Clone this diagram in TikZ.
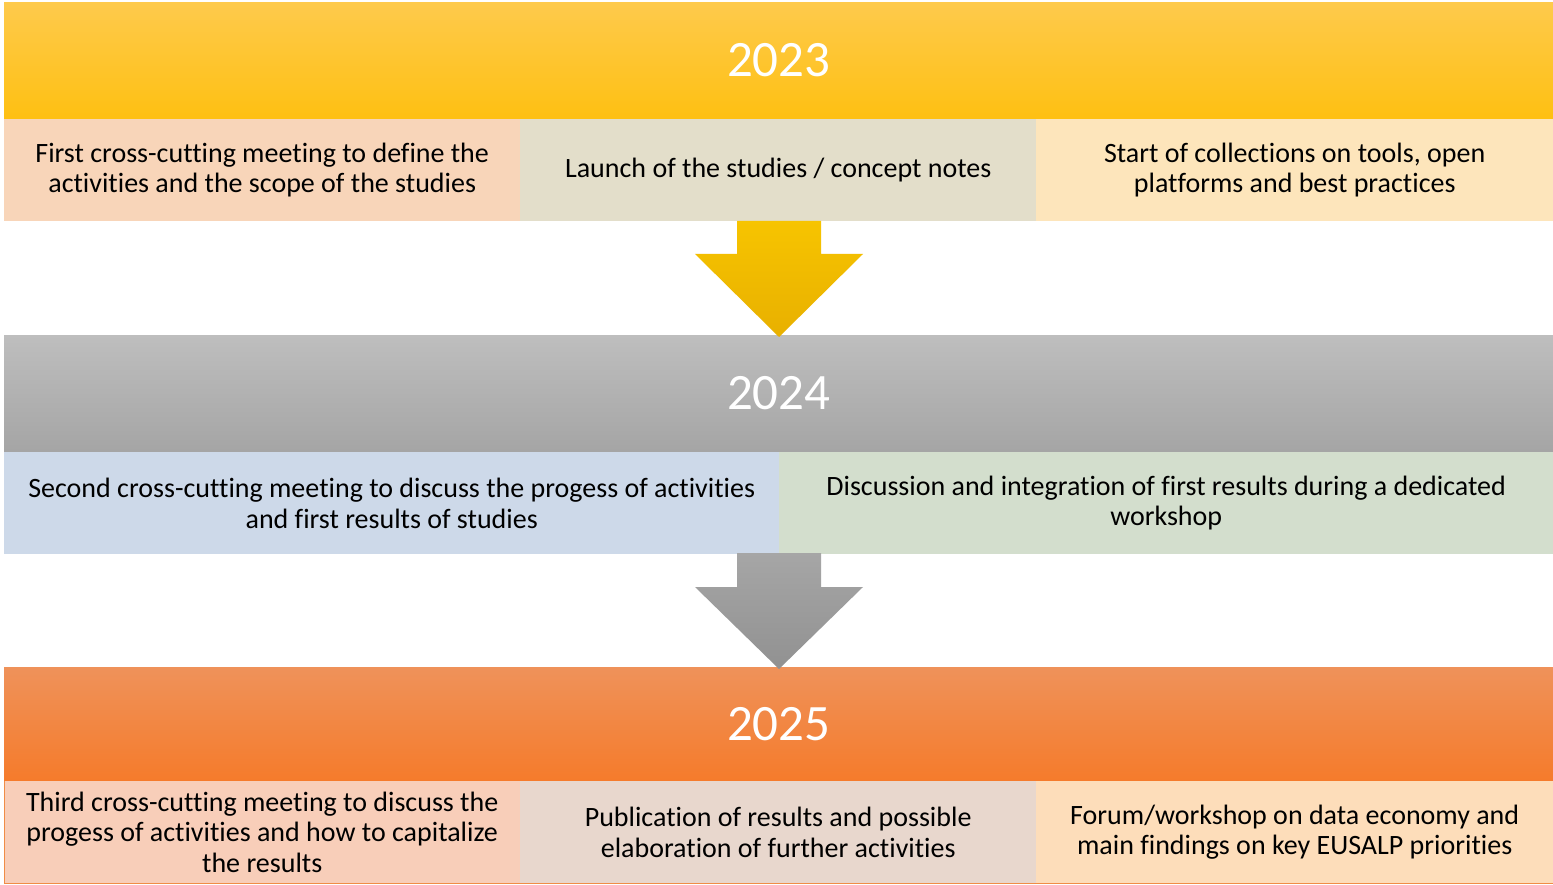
\documentclass[tikz,border=0pt]{standalone}
\usepackage{fontspec}
\setmainfont{Carlito}[Ligatures=NoCommon]
\usetikzlibrary{calc}
\definecolor{yTop}{RGB}{254,202,76}
\definecolor{yBot}{RGB}{254,192,18}
\definecolor{gTop}{RGB}{190,190,190}
\definecolor{gBot}{RGB}{165,165,165}
\definecolor{oTop}{RGB}{239,146,90}
\definecolor{oBot}{RGB}{245,123,43}
\definecolor{aYTop}{RGB}{247,196,0}
\definecolor{aYBot}{RGB}{232,176,0}
\definecolor{aGTop}{RGB}{166,166,166}
\definecolor{aGBot}{RGB}{145,145,145}
\definecolor{cA}{RGB}{248,213,185}
\definecolor{cB}{RGB}{227,222,202}
\definecolor{cC}{RGB}{253,229,187}
\definecolor{cD}{RGB}{205,217,233}
\definecolor{cE}{RGB}{211,222,205}
\definecolor{cF}{RGB}{248,206,185}
\definecolor{cG}{RGB}{232,215,205}
\definecolor{cH}{RGB}{253,221,186}
\definecolor{oLine}{RGB}{240,140,70}
\begin{document}
\begin{tikzpicture}[x=1pt,y=-1pt,
  bar/.style={anchor=north west, minimum width=1549pt, minimum height=116pt, inner sep=0pt,
    text=white, font=\fontsize{51}{60}\selectfont},
  cell/.style={anchor=north west, minimum height=102pt, inner sep=0pt, align=center,
    font=\fontsize{28}{30.5}\selectfont, text=black}
]
\fill[white] (0,0) rectangle (1553,885);
\useasboundingbox (0,0) rectangle (1553,885);

% 2023
\node[bar, top color=yTop, bottom color=yBot] (y1) at (4,2) {2023};
\node[cell, fill=cA, minimum width=516pt] (c11) at (4,119) {First cross-cutting meeting to define the\\activities and the scope of the studies};
\node[cell, fill=cB, minimum width=516pt] (c12) at (520,119) {Launch of the studies / concept notes};
\node[cell, fill=cC, minimum width=517pt] (c13) at (1036,119) {Start of collections on tools, open\\platforms and best practices};

% 2024
\node[bar, top color=gTop, bottom color=gBot] (y2) at (4,335) {2024};
\node[cell, fill=cD, minimum width=775pt] (c21) at (4,452) {Second cross-cutting meeting to discuss the progess of activities\\and first results of studies};
\node[cell, fill=cE, minimum width=774pt] (c22) at (779,452) {Discussion and integration of first results during a dedicated\\workshop};

% 2025
\node[bar, top color=oTop, bottom color=oBot, minimum height=114pt] (y3) at (4,667) {2025};
\node[cell, fill=cF, minimum width=516pt] (c31) at (4,781) {Third cross-cutting meeting to discuss the\\progess of activities and how to capitalize\\the results};
\node[cell, fill=cG, minimum width=516pt] (c32) at (520,781) {Publication of results and possible\\elaboration of further activities};
\node[cell, fill=cH, minimum width=517pt] (c33) at (1036,781) {Forum/workshop on data economy and\\main findings on key EUSALP priorities};
\draw[oLine, line width=1.5pt] (c31.south west) -- (c33.south east);
\draw[oLine, line width=0.8pt] (c31.north west) -- (c31.south west);

% arrows
\coordinate (a1s) at (779,221);
\coordinate (a1t) at (779,337);
\shade[top color=aYTop, bottom color=aYBot]
  ($(a1s)+(-42,0)$) -- ($(a1s)+(42,0)$) -- ($(a1s)+(42,33)$) -- ($(a1s)+(84,33)$)
  -- (a1t) -- ($(a1s)+(-84,33)$) -- ($(a1s)+(-42,33)$) -- cycle;

\coordinate (a2s) at (779,553);
\coordinate (a2t) at (779,669);
\shade[top color=aGTop, bottom color=aGBot]
  ($(a2s)+(-42,0)$) -- ($(a2s)+(42,0)$) -- ($(a2s)+(42,34)$) -- ($(a2s)+(84,34)$)
  -- (a2t) -- ($(a2s)+(-84,34)$) -- ($(a2s)+(-42,34)$) -- cycle;
\end{tikzpicture}
\end{document}
